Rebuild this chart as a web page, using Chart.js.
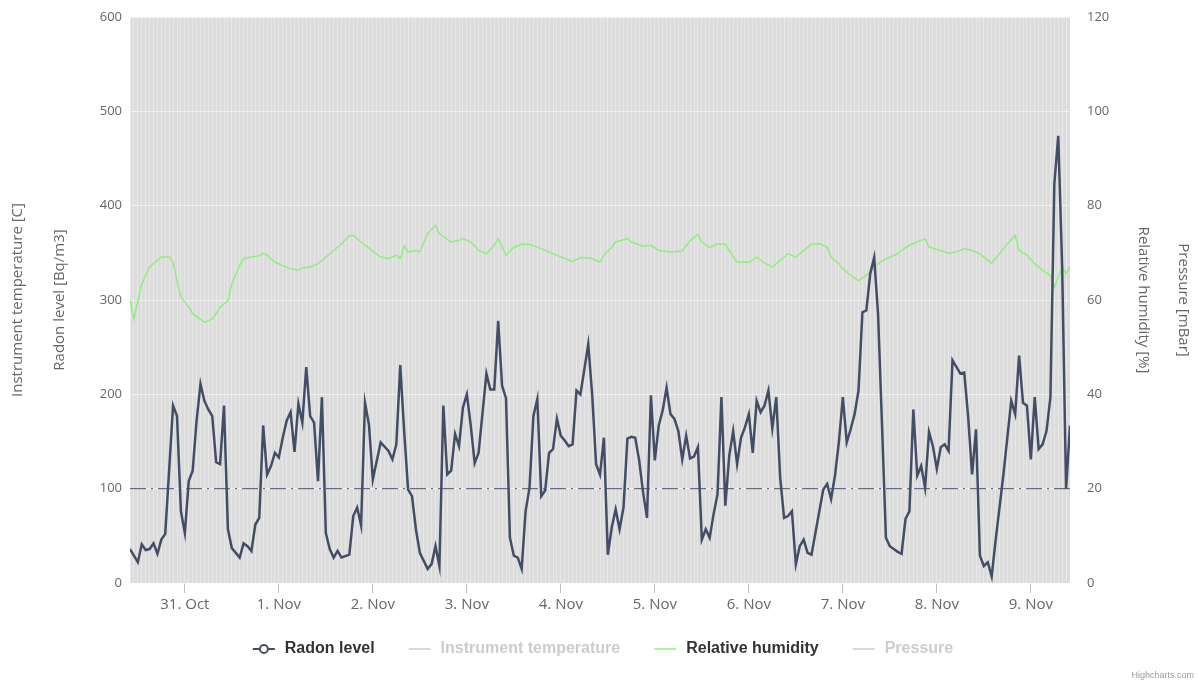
<!DOCTYPE html>
<html>
<head>
<meta charset="utf-8">
<script src="https://cdn.jsdelivr.net/npm/chart.js@4"></script>
<style>
  html, body { margin: 0; padding: 0; background: #ffffff; }
  #wrap { position: relative; width: 1198px; height: 684px; }
  #credit { position: absolute; right: 4px; bottom: 4px; font: 9px 'Liberation Sans', Arial, sans-serif; color: #999999; }
</style>
</head>
<body>
<div id="wrap">
  <canvas id="radon-chart"></canvas>
  <div id="credit">Highcharts.com</div>
</div>
<script>
// hours counted from 31 Oct 00:00
const dayLabels = ['31. Oct', '1. Nov', '2. Nov', '3. Nov', '4. Nov', '5. Nov', '6. Nov', '7. Nov', '8. Nov', '9. Nov'];
const radonLevel = 100;

const radonHours = [-14, -12, -11, -10, -9, -8, -7, -6, -5, -3, -2, -1, 0, 1, 2, 3, 4, 5, 6, 7, 8, 9, 10, 11, 12,
  14, 15, 16, 17, 18, 19, 20, 21, 22, 23, 24, 25, 26, 27, 28, 29, 30, 31, 32, 33, 34, 35, 36, 37, 38, 39, 40, 42,
  43, 44, 45, 46, 47, 48, 50, 52, 53, 54, 55, 56, 57, 58, 59, 60, 62, 63, 64, 65, 66, 67, 68, 69, 70, 71, 72, 73,
  74, 75, 77, 78, 79, 80, 81, 82, 83, 84, 85, 86, 87, 88, 89, 90, 91, 92, 93, 94, 95, 96, 97, 98, 99, 100, 101,
  103, 104, 105, 106, 107, 108, 109, 110, 111, 112, 113, 114, 115, 116, 117, 118, 119, 120, 121, 122, 123, 124,
  125, 126, 127, 128, 129, 130, 131, 132, 133, 134, 135, 136, 137, 138, 139, 140, 141, 142, 143, 144, 145, 146,
  147, 148, 149, 150, 151, 152, 153, 154, 155, 156, 157, 158, 159, 160, 161, 163, 164, 165, 166, 167, 168, 169,
  170, 171, 172, 173, 174, 175, 176, 177, 178, 179, 180, 181, 182, 183, 184, 185, 186, 187, 188, 189, 190, 191,
  192, 193, 194, 195, 196, 197, 198, 199, 200, 201, 202, 203, 204, 205, 206, 207, 208, 209, 211, 212, 213, 214,
  215, 216, 217, 218, 219, 220, 221, 222, 223, 224, 225, 226];
const radonValues = [36, 22, 41, 35, 36, 42, 31, 46, 52, 188, 177, 76, 53, 108, 119, 172, 211, 193, 184, 177, 128, 126, 188, 57, 37,
  27, 42, 39, 34, 62, 69, 167, 115, 124, 138, 133, 154, 172, 181, 139, 190, 170, 229, 177, 170, 108, 197, 53, 36, 27, 34, 27, 30,
  71, 80, 61, 191, 168, 110, 149, 140, 131, 147, 231, 161, 99, 92, 57, 32, 15, 20, 39, 18, 188, 115, 119, 158, 145, 186, 200, 167,
  127, 138, 222, 205, 205, 278, 209, 196, 48, 29, 27, 15, 76, 101, 177, 195, 92, 98, 138, 142, 174, 156, 151, 145, 147, 204, 200,
  253, 200, 126, 115, 154, 30, 59, 78, 57, 80, 153, 155, 154, 130, 96, 69, 199, 130, 167, 183, 207, 179,
  174, 161, 131, 156, 132, 134, 144, 46, 57, 48, 73, 94, 197, 82, 135, 161, 126, 154, 165, 179, 138, 193,
  181, 188, 204, 164, 197, 112, 69, 71, 76, 20, 39, 46, 32, 30, 53, 99, 105, 89, 114, 150, 197, 149,
  163, 179, 204, 287, 289, 328, 345, 285, 168, 48, 39, 36, 33, 31, 68, 76, 184, 114, 124, 101, 160, 145,
  121, 144, 147, 140, 236, 229, 222, 223, 176, 115, 163, 29, 18, 22, 7, 45, 80, 115, 193, 179, 241, 191,
  188, 131, 197, 142, 147, 161, 197, 423, 474, 335, 100, 167];

const humidityHours = [-14, -13, -11, -9, -7, -6, -4, -3, -2, -1, 1, 2, 5, 7, 8, 9, 11, 12, 14, 15, 17, 19, 20, 21, 22, 23,
  25, 27, 29, 30, 32, 34, 36, 38, 40, 42, 43, 45, 47, 50, 52, 54, 55, 56, 57, 59, 60, 62, 64, 65, 68, 70, 71, 73, 75,
  77, 79, 80, 82, 84, 86, 88, 91, 94, 96, 99, 101, 104, 106, 107, 109, 110, 113, 114, 117, 119, 121, 124, 127, 129,
  131, 132, 134, 136, 138, 139, 141, 144, 146, 148, 150, 152, 154, 156, 158, 160, 162, 164, 165, 167, 168, 170, 172,
  174, 176, 177, 179, 182, 183, 185, 187, 189, 190, 193, 195, 197, 199, 201, 203, 204, 206, 208, 210, 212, 213, 215,
  217, 219, 221, 222, 224, 225, 226];
const humidityValues = [60, 56, 63.4, 67, 68.4, 69.1, 69.1, 68, 64.1, 60.6, 58.5, 57.1, 55.3, 56, 57.1, 58.5, 59.9, 63.4, 67.3, 68.8, 69.1, 69.4, 69.9, 69.5, 68.8, 68,
  67.3, 66.6, 66.3, 66.8, 67, 67.7, 69.1, 70.5, 71.9, 73.7, 73.7, 72.3, 71, 69.1, 68.8, 69.5, 68.8, 71.4, 70.2, 70.5, 70.2, 74.1, 75.8, 74.1, 72.3, 72.6, 73, 72.3, 70.5,
  69.8, 71.6, 73, 69.5, 71.2, 71.8, 71.8, 70.9, 69.8, 69.1, 68.2, 69, 68.8, 68, 69.5, 71.2, 72.3, 73, 72.3, 71.4, 71.6, 70.5, 70.2, 70.4, 72.6,
  73.9, 72.3, 71.1, 71.9, 71.8, 70.5, 68, 68, 69.1, 67.8, 67, 68.4, 69.8, 69.1, 70.5, 71.8, 71.9, 71.2, 69.1, 67.7, 66.6, 65.2, 64.1,
  65.2, 66.8, 67.7, 68.7, 69.8, 70.5, 71.6, 72.3, 73, 71.2, 70.5, 69.9, 70.2, 70.9, 70.5, 69.8, 69.1, 67.8, 69.8, 71.9, 73.7, 70.5, 69.5,
  67.7, 66.3, 65.2, 62.7, 67, 65.6, 67];

const toPoints = (xs, ys) => xs.map((x, i) => ({ x: x, y: ys[i] }));
const firstHour = radonHours[0];
const lastHour = radonHours[radonHours.length - 1];

// legend symbol: a short line (with a hollow circle for the radon series),
// with some blank space on the left to widen the gap between legend items
function legendMarker(color, withCircle) {
  const c = document.createElement('canvas');
  c.width = 32; c.height = 12;
  const g = c.getContext('2d');
  g.strokeStyle = color;
  g.lineWidth = withCircle ? 2 : 1.5;
  g.beginPath(); g.moveTo(8, 6); g.lineTo(30, 6); g.stroke();
  if (withCircle) {
    g.beginPath(); g.arc(19, 6, 4, 0, Math.PI * 2);
    g.fillStyle = '#ffffff'; g.fill(); g.stroke();
  }
  return c;
}

const plotBackground = {
  id: 'plotBackground',
  beforeDraw(chart) {
    const { ctx, chartArea: a } = chart;
    ctx.save();
    ctx.fillStyle = '#dcdcdc';
    ctx.fillRect(a.left, a.top, a.right - a.left, a.bottom - a.top);
    ctx.restore();
  }
};

const fixWidth = w => scale => { scale.width = w; };
const yTickFont = { family: "'Open Sans', sans-serif", size: 13 };
const xTickFont = { family: "'Open Sans', sans-serif", size: 15 };
const titleFont = { family: "'Open Sans', sans-serif", size: 15 };

document.addEventListener('DOMContentLoaded', () => {
  const ctx = document.getElementById('radon-chart').getContext('2d');
  new Chart(ctx, {
    type: 'line',
    data: {
      datasets: [{
        label: 'Radon level',
        data: toPoints(radonHours, radonValues),
        yAxisID: 'yRadon',
        borderColor: '#434e66',
        borderWidth: 2.5,
        pointRadius: 0,
        marker: legendMarker('#434e66', true),
        muted: false,
        order: 1
      }, {
        label: 'Instrument temperature',
        data: [],
        yAxisID: 'yTemp',
        borderColor: '#cccccc',
        pointRadius: 0,
        marker: legendMarker('#cccccc', false),
        muted: true
      }, {
        label: 'Relative humidity',
        data: toPoints(humidityHours, humidityValues),
        yAxisID: 'yHum',
        borderColor: '#90ee7e',
        borderWidth: 1.5,
        pointRadius: 0,
        marker: legendMarker('#90ee7e', false),
        muted: false,
        order: 3
      }, {
        label: 'Pressure',
        data: [],
        yAxisID: 'yPres',
        borderColor: '#cccccc',
        pointRadius: 0,
        marker: legendMarker('#cccccc', false),
        muted: true
      }, {
        label: '',
        data: [{ x: firstHour, y: radonLevel }, { x: lastHour, y: radonLevel }],
        yAxisID: 'yRadon',
        borderColor: '#4a556b',
        borderWidth: 1,
        borderDash: [16, 5, 2, 5],
        pointRadius: 0,
        order: 2
      }]
    },
    options: {
      responsive: true,
      maintainAspectRatio: false,
      animation: false,
      layout: { padding: { top: 17, bottom: 17, left: 0, right: 0 } },
      plugins: {
        tooltip: { enabled: false },
        legend: {
          position: 'bottom',
          labels: {
            usePointStyle: true,
            pointStyleWidth: 32,
            padding: 26,
            font: { family: "'Liberation Sans', Arial, sans-serif", size: 16, weight: 'bold' },
            generateLabels: chart => chart.data.datasets
              .map((d, i) => ({
                text: d.label,
                fontColor: d.muted ? '#cccccc' : '#333333',
                pointStyle: d.marker,
                fillStyle: d.borderColor,
                strokeStyle: d.borderColor,
                lineWidth: 0,
                hidden: false,
                datasetIndex: i
              }))
              .filter(item => item.text)
          }
        }
      },
      scales: {
        x: {
          type: 'linear',
          min: firstHour,
          max: lastHour,
          afterFit: scale => { scale.height = 32; },
          border: { display: false },
          grid: {
            color: 'rgba(255,255,255,0.35)',
            lineWidth: 1,
            drawTicks: true,
            tickLength: 10,
            tickColor: c => (c.tick && c.tick.value % 24 === 0) ? '#c0c0c0' : 'rgba(0,0,0,0)'
          },
          ticks: {
            stepSize: 1,
            autoSkip: false,
            maxRotation: 0,
            padding: 3,
            color: '#666666',
            font: xTickFont,
            callback: v => v % 24 === 0 ? dayLabels[v / 24] : ''
          }
        },
        yRadon: {
          position: 'left',
          min: 0,
          max: 600,
          afterFit: fixWidth(90),
          border: { display: false },
          grid: { color: 'rgba(255,255,255,0.55)', drawTicks: false },
          ticks: { stepSize: 100, padding: 8, color: '#666666', font: yTickFont },
          title: { display: true, text: 'Radon level [Bq/m3]', color: '#666666', font: titleFont, padding: { top: 11 } }
        },
        yTemp: {
          position: 'left',
          min: 0,
          max: 1,
          afterFit: fixWidth(40),
          border: { display: false },
          grid: { display: false },
          ticks: { display: false },
          title: { display: true, text: 'Instrument temperature [C]', color: '#666666', font: titleFont, padding: { top: 9 } }
        },
        yHum: {
          position: 'right',
          min: 0,
          max: 120,
          afterFit: fixWidth(90),
          border: { display: false },
          grid: { display: true, drawOnChartArea: false, drawTicks: true, tickLength: 9, tickColor: 'rgba(0,0,0,0)' },
          ticks: { stepSize: 20, padding: 8, color: '#666666', font: yTickFont },
          title: { display: true, text: 'Relative humidity [%]', color: '#666666', font: titleFont, padding: { top: 8 } }
        },
        yPres: {
          position: 'right',
          min: 0,
          max: 1,
          afterFit: fixWidth(38),
          border: { display: false },
          grid: { display: false },
          ticks: { display: false },
          title: { display: true, text: 'Pressure [mBar]', color: '#666666', font: titleFont, padding: { top: 6 } }
        }
      }
    },
    plugins: [plotBackground]
  });
});
</script>
</body>
</html>
